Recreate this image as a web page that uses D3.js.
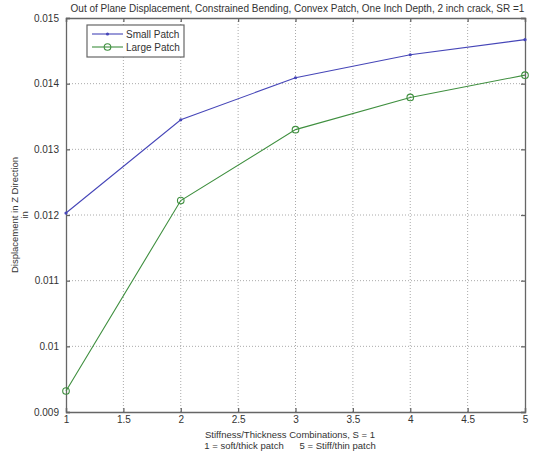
<!DOCTYPE html>
<html><head><meta charset="utf-8">
<script src="https://cdn.jsdelivr.net/npm/d3@7"></script>
<style>body{margin:0;background:#fff}svg{display:block}text{font-family:"Liberation Sans",Arial,sans-serif;fill:#333}</style>
</head><body><svg id="c" width="534" height="455"></svg>
<script>
const xValues = [1, 2, 3, 4, 5];
const smallPatch = [0.01203, 0.01345, 0.01409, 0.01444, 0.01467];
const largePatch = [0.00932, 0.01222, 0.0133, 0.01379, 0.01413];
const seriesNames = ["Small Patch", "Large Patch"];
const xTicks = [1, 1.5, 2, 2.5, 3, 3.5, 4, 4.5, 5];
const yTicks = [0.009, 0.01, 0.011, 0.012, 0.013, 0.014, 0.015];
const yTickLabels = ["0.009", "0.01", "0.011", "0.012", "0.013", "0.014", "0.015"];
const titleText = "Out of Plane Displacement, Constrained Bending, Convex Patch, One Inch Depth, 2 inch crack, SR =1";
const xLabelLines = ["Stiffness/Thickness Combinations, S = 1", "1 = soft/thick patch      5 = Stiff/thin patch"];
const yLabelLines = ["Displacement in Z Direction", "in"];

const L = 66, R = 525, T = 18, B = 412;
const svg = d3.select("#c");
const x = d3.scaleLinear().domain([1, 5]).range([L, R]);
const y = d3.scaleLinear().domain([0.009, 0.015]).range([B, T]);
const axisCol = "#666";

// grid
const g = svg.append("g");
g.selectAll(".vg").data(xTicks.slice(1, -1)).enter().append("line")
  .attr("x1", d => x(d)).attr("x2", d => x(d)).attr("y1", T).attr("y2", B)
  .attr("stroke", "#aaa").attr("stroke-width", 1).attr("stroke-dasharray", "1,2");
g.selectAll(".hg").data(yTicks.slice(1, -1)).enter().append("line")
  .attr("y1", d => y(d)).attr("y2", d => y(d)).attr("x1", L).attr("x2", R)
  .attr("stroke", "#aaa").attr("stroke-width", 1).attr("stroke-dasharray", "1,2");

// axes
const xAxis = d3.axisBottom(x).tickValues(xTicks).tickSize(-4).tickPadding(4).tickFormat(d3.format("~g"));
const xAxisTop = d3.axisTop(x).tickValues(xTicks).tickSize(-4).tickFormat("");
const yAxis = d3.axisLeft(y).tickValues(yTicks).tickSize(-4).tickPadding(7).tickFormat((d, i) => yTickLabels[i]);
const yAxisRight = d3.axisRight(y).tickValues(yTicks).tickSize(-4).tickFormat("");
function style(sel) {
  sel.selectAll("path,line").attr("stroke", axisCol).attr("stroke-width", 1.3);
  sel.selectAll("text").attr("fill", "#333").style("font-size", "10px").style("font-family", "'Liberation Sans',Arial,sans-serif");
}
svg.append("g").attr("transform", `translate(0,${B})`).call(xAxis).call(style);
svg.append("g").attr("transform", `translate(0,${T})`).call(xAxisTop).call(style);
svg.append("g").attr("transform", `translate(${L},0)`).call(yAxis).call(style);
svg.append("g").attr("transform", `translate(${R},0)`).call(yAxisRight).call(style);

// lines
const colors = ["#4646b8", "#3f8f3f"];
const data = [smallPatch, largePatch];
const line = d3.line().x((d, i) => x(xValues[i])).y(d => y(d));
data.forEach((s, k) => {
  svg.append("path").datum(s).attr("d", line).attr("fill", "none").attr("stroke", colors[k]).attr("stroke-width", 1.1);
});
// markers
svg.selectAll(".m0").data(smallPatch).enter().append("circle")
  .attr("cx", (d, i) => x(xValues[i])).attr("cy", d => y(d)).attr("r", 1.6).attr("fill", colors[0]);
svg.selectAll(".m1").data(largePatch).enter().append("circle")
  .attr("cx", (d, i) => x(xValues[i])).attr("cy", d => y(d)).attr("r", 3.3).attr("fill", "none").attr("stroke", colors[1]).attr("stroke-width", 1.1);

// title and labels
svg.append("text").attr("x", (L + R) / 2 + 2).attr("y", 12).attr("text-anchor", "middle").style("font-size", "10px").text(titleText);
xLabelLines.forEach((t, i) => {
  svg.append("text").attr("x", 290).attr("y", 438 + i * 11).attr("text-anchor", "middle").style("font-size", "9.5px").attr("xml:space", "preserve").style("white-space", "pre").text(t);
});
yLabelLines.forEach((t, i) => {
  svg.append("text").attr("transform", `translate(${18 + i * 10},${215}) rotate(-90)`).attr("text-anchor", "middle").style("font-size", "9.5px").text(t);
});

// legend
const lg = svg.append("g");
lg.append("rect").attr("x", 87).attr("y", 25).attr("width", 97).attr("height", 32).attr("fill", "#fff").attr("stroke", axisCol).attr("stroke-width", 1.2);
seriesNames.forEach((n, k) => {
  const yy = 34 + k * 13;
  lg.append("line").attr("x1", 92).attr("x2", 123).attr("y1", yy).attr("y2", yy).attr("stroke", colors[k]).attr("stroke-width", 1.1);
  if (k === 0) lg.append("circle").attr("cx", 107.5).attr("cy", yy).attr("r", 1.6).attr("fill", colors[k]);
  else lg.append("circle").attr("cx", 107.5).attr("cy", yy).attr("r", 3.3).attr("fill", "none").attr("stroke", colors[k]).attr("stroke-width", 1.1);
  lg.append("text").attr("x", 126).attr("y", yy + 3.5).style("font-size", "10px").text(n);
});
</script></body></html>
